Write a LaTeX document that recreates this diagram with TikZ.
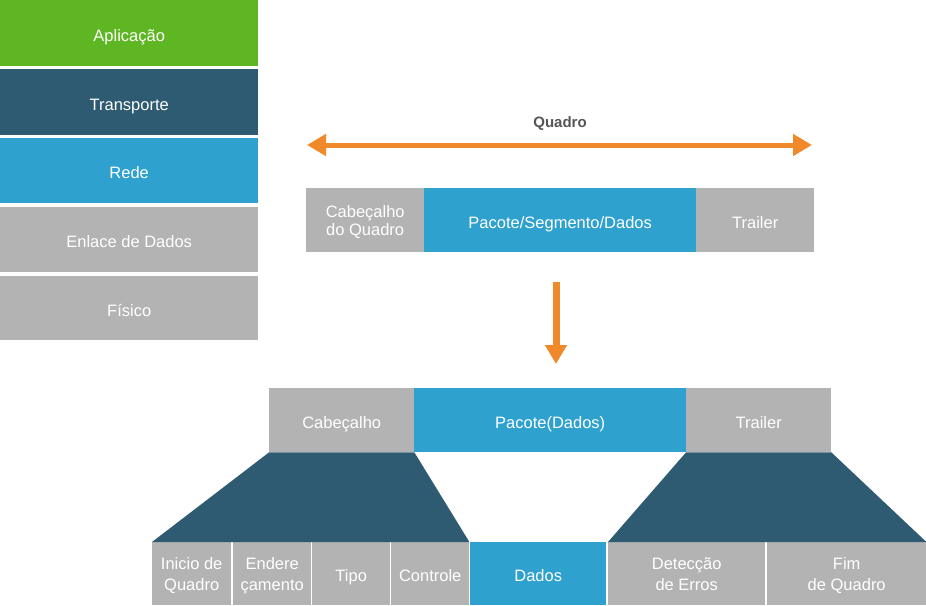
\documentclass[tikz,border=0pt]{standalone}
\usepackage{fontspec}
\setmainfont{Liberation Sans}
\usetikzlibrary{arrows.meta}
\definecolor{verde}{HTML}{5DB622}
\definecolor{azulesc}{HTML}{2E5B71}
\definecolor{azul}{HTML}{2EA1CE}
\definecolor{cinza}{HTML}{B3B3B3}
\definecolor{laranja}{HTML}{F0892A}
\definecolor{texto}{HTML}{555555}
\tikzset{
  caixa/.style={rectangle,anchor=north west,inner sep=0pt,text=white,align=center,
    text depth=0pt,font=\fontsize{16.5}{21}\selectfont},
  linha/.style={caixa,text height=16pt},
  seta/.style={draw=laranja,line width=5pt},
  ponta/.tip={Triangle[length=19pt,width=21pt]}
}
\begin{document}
\begin{tikzpicture}[x=1pt,y=-1pt]
\useasboundingbox (0,0) rectangle (926,605);
% camadas
\node[linha,fill=verde,minimum width=258pt,minimum height=66pt] (apl) at (0,0) {Aplicação};
\node[linha,fill=azulesc,minimum width=258pt,minimum height=66pt] (tra) at (0,69) {Transporte};
\node[linha,fill=azul,minimum width=258pt,minimum height=65pt] (red) at (0,138) {Rede};
\node[linha,fill=cinza,minimum width=258pt,minimum height=65pt] (enl) at (0,207) {Enlace de Dados};
\node[linha,fill=cinza,minimum width=258pt,minimum height=64pt] (fis) at (0,276) {Físico};
% quadro
\node[font=\fontsize{15}{17}\selectfont\bfseries,text=texto] (qdr) at (560,124) {Quadro};
\coordinate (qL) at (307,145);
\coordinate (qR) at (812,145);
\draw[seta,ponta-ponta] (qL) -- (qR);
\node[caixa,font=\fontsize{16.5}{18}\selectfont,fill=cinza,minimum width=118pt,minimum height=64pt] (cabq) at (306,188) {Cabeçalho\\do Quadro};
\node[linha,fill=azul,minimum width=272pt,minimum height=64pt] (pac) at (424,188) {Pacote/Segmento/Dados};
\node[linha,fill=cinza,minimum width=118pt,minimum height=64pt] (trq) at (696,188) {Trailer};
\coordinate (dA) at (556,282);
\coordinate (dB) at (556,364);
\draw[seta,line width=7pt,-ponta] (dA) -- (dB);
% quadro detalhado
\node[linha,fill=cinza,minimum width=145pt,minimum height=64pt] (cab) at (269,388) {Cabeçalho};
\node[linha,fill=azul,minimum width=272pt,minimum height=64pt] (pcd) at (414,388) {Pacote(Dados)};
\node[linha,fill=cinza,minimum width=145pt,minimum height=64pt] (trb) at (686,388) {Trailer};
\node[caixa,fill=cinza,minimum width=79pt,minimum height=63pt] (ini) at (152,542) {Inicio de\\Quadro};
\node[caixa,fill=cinza,minimum width=78pt,minimum height=63pt] (end) at (233,542) {Endere\\çamento};
\node[linha,fill=cinza,minimum width=78pt,minimum height=63pt] (tip) at (312,542) {Tipo};
\node[linha,fill=cinza,minimum width=78pt,minimum height=63pt] (ctl) at (391,542) {Controle};
\node[linha,fill=azul,minimum width=136pt,minimum height=63pt] (dad) at (470,542) {Dados};
\node[caixa,fill=cinza,minimum width=157pt,minimum height=63pt] (det) at (608,542) {Detecção\\de Erros};
\node[caixa,fill=cinza,minimum width=159pt,minimum height=63pt] (fim) at (767,542) {Fim\\de Quadro};
\fill[azulesc] (cab.south west) -- (cab.south east) -- (ctl.north east) -- (ini.north west) -- cycle;
\fill[azulesc] (trb.south west) -- (trb.south east) -- (fim.north east) -- (det.north west) -- cycle;
\end{tikzpicture}
\end{document}
